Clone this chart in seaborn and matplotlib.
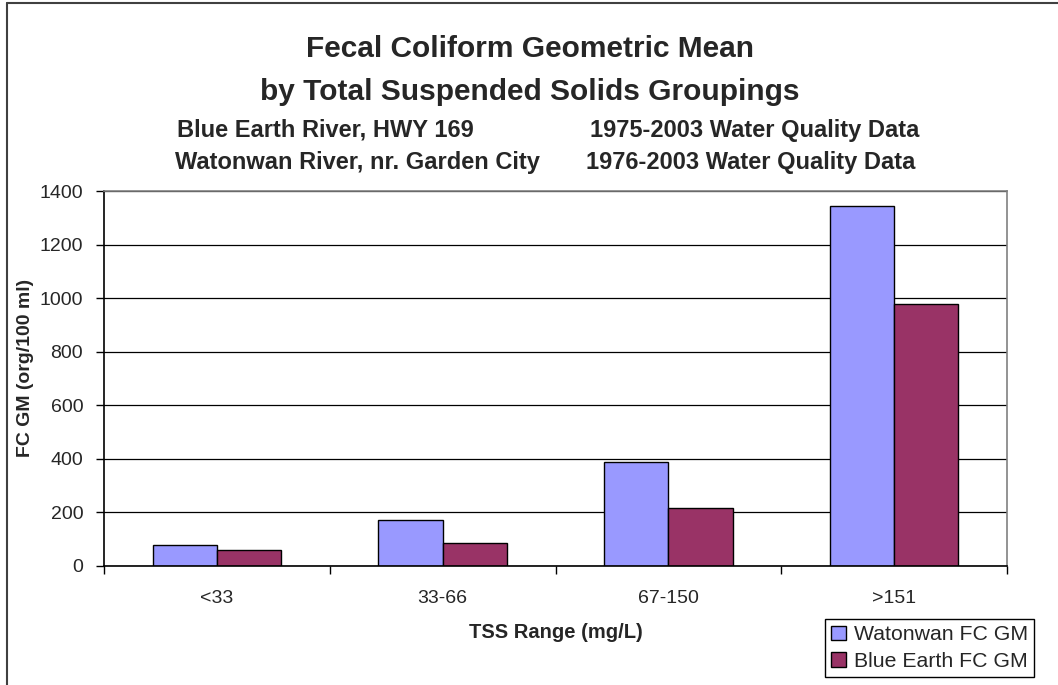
import pandas as pd
import matplotlib.pyplot as plt
import seaborn as sns
from matplotlib.lines import Line2D
from matplotlib.ticker import FixedLocator

# Data
tss_ranges = ["<33", "33-66", "67-150", ">151"]
watonwan_gm = [77, 172, 388, 1343]
blue_earth_gm = [61, 87, 217, 977]
series_names = ["Watonwan FC GM", "Blue Earth FC GM"]
series_colors = ["#9999FF", "#993366"]

sns.set_style("white")
plt.rcParams['font.family'] = ['Liberation Sans', 'DejaVu Sans']

df = pd.DataFrame({
    'range': tss_ranges * 2,
    'value': watonwan_gm + blue_earth_gm,
    'series': [series_names[0]] * 4 + [series_names[1]] * 4,
})

fig = plt.figure(figsize=(10.58, 6.85), dpi=100)
ax = fig.add_axes([104 / 1058, 119 / 685, 903 / 1058, 375 / 685])

sns.barplot(data=df, x='range', y='value', hue='series', order=tss_ranges,
            hue_order=series_names, palette=series_colors, width=0.57,
            edgecolor='black', linewidth=1, saturation=1, legend=False, ax=ax)

ax.set_xlim(-0.5, 3.5)
ax.set_ylim(0, 1400)
ax.set_yticks(range(0, 1401, 200))
ax.yaxis.grid(True, color='black', linewidth=0.9)
ax.set_axisbelow(True)
ax.set_xlabel('')
ax.set_ylabel('')

# spines: left/bottom black, top/right grey like the plot area border
for side in ['left', 'bottom']:
    ax.spines[side].set_color('black')
    ax.spines[side].set_linewidth(1.2)
for side in ['top', 'right']:
    ax.spines[side].set_visible(True)
    ax.spines[side].set_color('#808080')
    ax.spines[side].set_linewidth(1.2)

ax.tick_params(axis='y', direction='out', length=6, width=1, color='black',
               left=True, labelsize=14, pad=9)
ax.tick_params(axis='x', which='major', length=0, labelsize=14, pad=17)
ax.xaxis.set_minor_locator(FixedLocator([-0.5, 0.5, 1.5, 2.5, 3.5]))
ax.tick_params(axis='x', which='minor', direction='out', length=6, width=1,
               color='black', bottom=True)

# titles
fig.text(530 / 1058, 1 - 49 / 685, 'Fecal Coliform Geometric Mean',
         ha='center', va='center', fontsize=21.5, fontweight='bold')
fig.text(530 / 1058, 1 - 92 / 685, 'by Total Suspended Solids Groupings',
         ha='center', va='center', fontsize=21.5, fontweight='bold')
fig.text(177 / 1058, 1 - 130 / 685, 'Blue Earth River, HWY 169', ha='left',
         va='center', fontsize=17, fontweight='bold')
fig.text(755 / 1058, 1 - 130 / 685, '1975-2003 Water Quality Data',
         ha='center', va='center', fontsize=17, fontweight='bold')
fig.text(175 / 1058, 1 - 162 / 685, 'Watonwan River, nr. Garden City',
         ha='left', va='center', fontsize=17, fontweight='bold')
fig.text(751 / 1058, 1 - 162 / 685, '1976-2003 Water Quality Data',
         ha='center', va='center', fontsize=17, fontweight='bold')

# axis labels
fig.text(26 / 1058, 1 - 368 / 685, 'FC GM (org/100 ml)', rotation=90,
         ha='center', va='center', fontsize=14, fontweight='bold')
fig.text(0.5 * (104 + 1007) / 1058, 1 - 633 / 685, 'TSS Range (mg/L)',
         ha='center', va='center', fontsize=14.5, fontweight='bold')

# legend
handles = [plt.Rectangle((0, 0), 1, 1, facecolor=c, edgecolor='black',
                         linewidth=1) for c in series_colors]
fig.legend(handles, series_names, loc='upper left',
           bbox_to_anchor=(825 / 1058, 1 - 619 / 685), fontsize=15.3,
           frameon=True, fancybox=False, framealpha=1, edgecolor='black',
           handlelength=0.7, handleheight=0.7, handletextpad=0.35,
           labelspacing=0.35, borderpad=0.3, borderaxespad=0)

# chart border (top and left visible)
fig.add_artist(Line2D([7 / 1058, 7 / 1058], [0, 1 - 3 / 685], color='#404040',
                      linewidth=1.5, transform=fig.transFigure))
fig.add_artist(Line2D([7 / 1058, 1], [1 - 3 / 685, 1 - 3 / 685],
                      color='#404040', linewidth=1.5,
                      transform=fig.transFigure))

fig.savefig('out.png', dpi=100)
